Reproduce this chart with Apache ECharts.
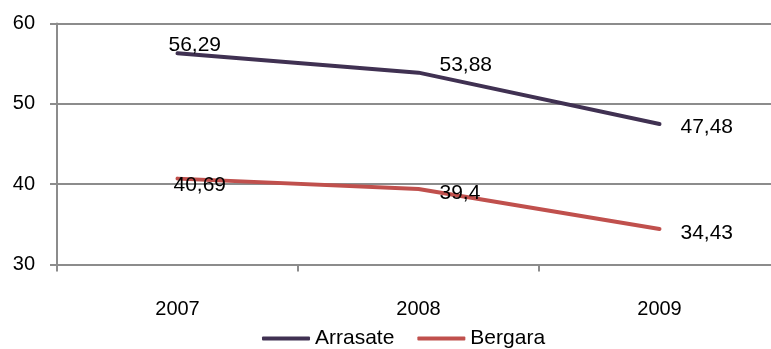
<!DOCTYPE html>
<html>
<head>
<meta charset="utf-8">
<script src="https://cdn.jsdelivr.net/npm/echarts@6/dist/echarts.min.js"></script>
<style>
html,body{margin:0;padding:0;background:#fff;overflow:hidden;width:771px;height:349px;}
#c{width:790px;height:349px;}
</style>
</head>
<body>
<div id="c"></div>
<script>
var categories = ['2007', '2008', '2009'];
var seriesNames = ['Arrasate', 'Bergara'];
var arrasate = [56.29, 53.88, 47.48];
var bergara = [40.69, 39.4, 34.43];
var yTicks = [30, 40, 50, 60];

// label offsets (style only)
var arrOffsets = [[-30, -8], [0, -7], [0, 3]];
var berOffsets = [[-25, 7], [0, 4], [0, 4]];

var FONT = '"Liberation Sans", Arial, sans-serif';

function fmt(v) { return String(v).replace('.', ','); }
function withLabels(vals, offs) {
  return vals.map(function (v, i) {
    return { value: v, label: { show: true, offset: offs[i] } };
  });
}

var chart = echarts.init(document.getElementById('c'), null, { renderer: 'canvas' });
chart.setOption({
  animation: false,
  backgroundColor: '#fff',
  grid: { left: 57, top: 23.5, width: 723, height: 241 },
  legend: {
    data: seriesNames,
    left: 262,
    top: 328,
    icon: 'roundRect',
    itemWidth: 48,
    itemHeight: 4,
    itemGap: 23,
    textStyle: { fontFamily: FONT, fontSize: 21, color: '#000', padding: [0, 0, 0, 0] },
    padding: 0
  },
  xAxis: {
    type: 'category',
    data: categories,
    boundaryGap: true,
    axisLine: { show: true, lineStyle: { color: '#8c8c8c', width: 2 } },
    axisTick: { show: true, length: 7, inside: false, lineStyle: { color: '#8c8c8c', width: 2 } },
    axisLabel: { fontFamily: FONT, fontSize: 20, color: '#000', margin: 35 }
  },
  yAxis: {
    type: 'value',
    min: yTicks[0],
    max: yTicks[yTicks.length - 1],
    interval: 10,
    axisLine: { show: true, lineStyle: { color: '#8c8c8c', width: 2 } },
    axisTick: { show: true, length: 7, lineStyle: { color: '#8c8c8c', width: 2 } },
    axisLabel: { fontFamily: FONT, fontSize: 20, color: '#000', margin: 22 },
    splitLine: { show: true, lineStyle: { color: '#8c8c8c', width: 2 } }
  },
  series: [
    {
      name: seriesNames[0],
      type: 'line',
      data: withLabels(arrasate, arrOffsets),
      symbol: 'circle',
      symbolSize: 2,
      showSymbol: true,
      itemStyle: { color: '#403152' },
      lineStyle: { width: 4, color: '#403152', cap: 'round', join: 'round' },
      label: {
        show: true, position: 'right', distance: 20,
        fontFamily: FONT, fontSize: 21, color: '#000',
        formatter: function (p) { return fmt(p.value); }
      }
    },
    {
      name: seriesNames[1],
      type: 'line',
      data: withLabels(bergara, berOffsets),
      symbol: 'circle',
      symbolSize: 2,
      showSymbol: true,
      itemStyle: { color: '#c0504d' },
      lineStyle: { width: 4, color: '#c0504d', cap: 'round', join: 'round' },
      label: {
        show: true, position: 'right', distance: 20,
        fontFamily: FONT, fontSize: 21, color: '#000',
        formatter: function (p) { return fmt(p.value); }
      }
    }
  ]
});
</script>
</body>
</html>
